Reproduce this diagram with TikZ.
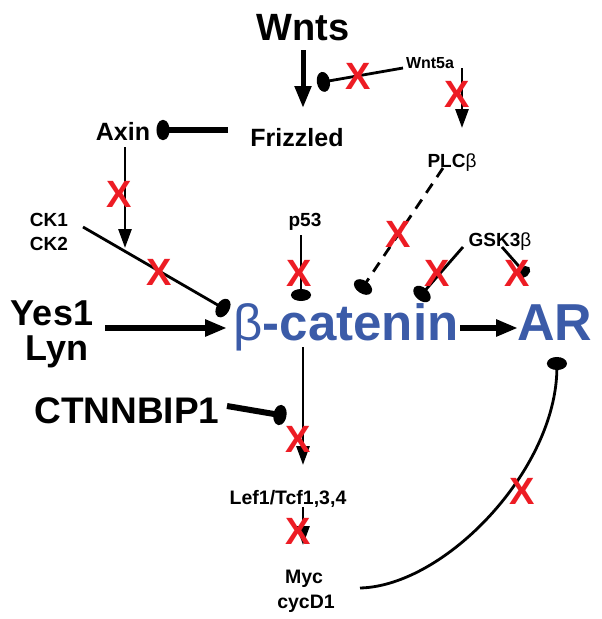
\documentclass[tikz,border=0pt]{standalone}
\usepackage{fontspec}
\setmainfont{Liberation Sans}
\usetikzlibrary{arrows.meta}
\definecolor{catblau}{RGB}{59,91,168}
\definecolor{kreuzrot}{RGB}{237,28,36}
\tikzset{
    txt/.style={inner sep=0pt, anchor=base, font=\bfseries\fontsize{#1}{#1}\selectfont},
    kreuz/.style={inner sep=0pt, text=kreuzrot, font=\bfseries\fontsize{38}{38}\selectfont},
    pfeil/.style={line width=2.8pt, -{Triangle[length=19pt,width=13pt]}},
    dickpfeil/.style={line width=6pt, -{Triangle[length=22pt,width=16pt]}},
    hemm/.style={line width=2.8pt, -{Ellipse[length=13pt,width=20pt]}},
    dickhemm/.style={line width=6pt, -{Ellipse[length=13pt,width=20pt]}},
    kleinhemm/.style={line width=2.8pt, -{Ellipse[length=10pt,width=14pt]}},
}
\begin{document}
\begin{tikzpicture}[x=1pt, y=-1pt, line width=2.8pt]
    \useasboundingbox (0,0) rectangle (602,619);

    % Beschriftung.
    \node[txt=38] (wnts) at (303,40) {Wnts};
    \node[txt=16] (wntfa) at (430,68) {Wnt5a};
    \node[txt=25] (frizzled) at (297,146) {Frizzled};
    \node[txt=25] (axin) at (123,140) {Axin};
    \node[txt=19] (plc) at (452,167) {PLC{\mdseries β}};
    \node[txt=19] (pfd) at (305,226) {p53};
    \node[txt=19] (gsk) at (500,246) {GSK3{\mdseries β}};
    \node[txt=19] (ckeins) at (49,226) {CK1};
    \node[txt=19] (ckzwei) at (49,250) {CK2};
    \node[txt=36] (yes) at (52,325) {Yes1};
    \node[txt=36] (lyn) at (57,360) {Lyn};
    \node[txt=51, text=catblau] (catenin) at (346,340) {{\mdseries β}-catenin};
    \node[txt=52, text=catblau] (ar) at (555,340) {AR};
    \node[txt=37] (ctnn) at (127,423) {CTNNBIP1};
    \node[txt=19.5] (lef) at (288,504) {Lef1/Tcf1,3,4};
    \node[txt=19.5] (myc) at (304,583) {Myc};
    \node[txt=19.5] (cycd) at (306,608) {cycD1};

    % Pfeile.
    \draw[dickpfeil, line width=5pt] ([shift={(0,10)}]wnts.base) -- ([shift={(6,-38)}]frizzled.base);
    \draw[hemm] ([shift={(-27,0)}]wntfa.base) -- ([shift={(14,43)}]wnts.base);
    \draw[pfeil] ([shift={(32,0)}]wntfa.base) -- ([shift={(10,-39)}]plc.base);
    \draw[dickhemm] ([shift={(-69,-16)}]frizzled.base) -- ([shift={(33.5,-10)}]axin.base);
    \draw[pfeil] ([shift={(2,7)}]axin.base) -- ([shift={(76,22)}]ckeins.base);
    \draw[hemm] ([shift={(34,1)}]ckeins.base) -- ([shift={(-117.4,-28.7)}]catenin.base);
    \draw[dickpfeil] ([shift={(53,3)}]yes.base) -- ([shift={(-119,-12)}]catenin.base);
    \draw[dickhemm] ([shift={(100,-17)}]ctnn.base) -- ([shift={(-59.6,76.1)}]catenin.base);
    \draw[hemm, -{Ellipse[length=12pt,width=20pt]}] ([shift={(-4,9)}]pfd.base) -- ([shift={(-45,-39)}]catenin.base);
    \draw[hemm, dash pattern=on 11pt off 8pt] ([shift={(-9,1)}]plc.base) -- ([shift={(13.4,-47.6)}]catenin.base);
    \draw[hemm] ([shift={(-37,1)}]gsk.base) -- ([shift={(71.7,-41.1)}]catenin.base);
    \draw[kleinhemm] ([shift={(2,1)}]gsk.base) -- ([shift={(-27.7,-64.2)}]ar.base);
    \draw[dickpfeil] ([shift={(114,-12)}]catenin.base) -- ([shift={(-37,-12)}]ar.base);
    \draw[pfeil] ([shift={(-43,7)}]catenin.base) -- ([shift={(15,-39)}]lef.base);
    \draw[pfeil] ([shift={(15,3)}]lef.base) -- ([shift={(-1,-38)}]myc.base);
    \draw[hemm] ([shift={(56,5)}]myc.base) .. controls +(85,-2) and +(-1,113) .. ([shift={(2,17)}]ar.base);

    % Kreuze.
    \foreach \i/\px/\py in {1/358/76, 2/457/94, 3/119/194, 4/159/272, 5/299/273, 6/398/234,
                           7/437/273, 8/517/273, 9/298/439, 10/298/531, 11/522/491}
    {
        \node[kreuz] (x\i) at (\px,\py) {X};
    }
\end{tikzpicture}
\end{document}
